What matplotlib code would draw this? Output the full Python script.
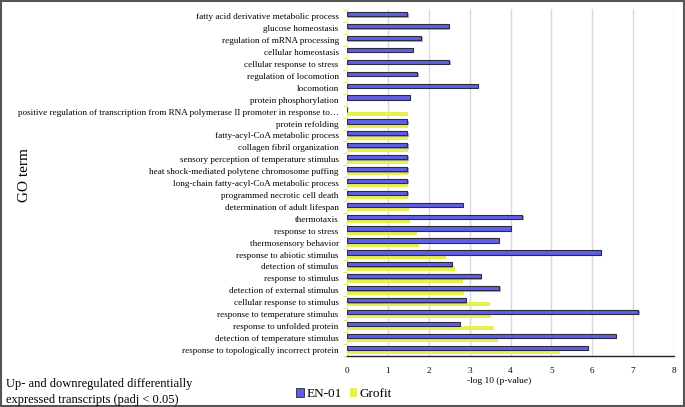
import matplotlib.pyplot as plt
import matplotlib.patheffects as pe
from matplotlib.patches import Rectangle
import numpy as np

plt.rcParams['font.family'] = ['Liberation Serif', 'DejaVu Serif']

# GO terms, top to bottom as shown
terms = [
    'fatty acid derivative metabolic process',
    'glucose homeostasis',
    'regulation of mRNA processing',
    'cellular homeostasis',
    'cellular response to stress',
    'regulation of locomotion',
    'locomotion',
    'protein phosphorylation',
    'positive regulation of transcription from RNA polymerase II promoter in response to\u2026',
    'protein refolding',
    'fatty-acyl-CoA metabolic process',
    'collagen fibril organization',
    'sensory perception of temperature stimulus',
    'heat shock-mediated polytene chromosome puffing',
    'long-chain fatty-acyl-CoA metabolic process',
    'programmed necrotic cell death',
    'determination of adult lifespan',
    'thermotaxis',
    'response to stress',
    'thermosensory behavior',
    'response to abiotic stimulus',
    'detection of stimulus',
    'response to stimulus',
    'detection of external stimulus',
    'cellular response to stimulus',
    'response to temperature stimulus',
    'response to unfolded protein',
    'detection of temperature stimulus',
    'response to topologically incorrect protein',
]

# -log10(p-value); 0 = not present
en01 = [1.48, 2.49, 1.82, 1.61, 2.50, 1.72, 3.20, 1.54, 0,
        1.48, 1.48, 1.48, 1.48, 1.48, 1.48, 1.48, 2.83, 4.29,
        4.00, 3.72, 6.21, 2.57, 3.27, 3.73, 2.90, 7.13, 2.76,
        6.57, 5.89]
grofit = [0, 0, 0, 0, 0, 0, 0, 0, 1.49,
          1.49, 1.49, 1.49, 1.49, 1.49, 1.49, 1.49, 1.51, 1.54,
          1.72, 1.77, 2.43, 2.64, 2.83, 2.87, 3.50, 3.52, 3.59,
          3.69, 5.20]

blue = '#5f5fe6'
yellow = '#e6f04e'

fig = plt.figure(figsize=(6.85, 4.07), dpi=100)
ax = fig.add_axes([347 / 685, 1 - 356 / 407, 327 / 685, 347 / 407])

y = np.arange(len(terms))
h = 0.36
ax.barh(y + h / 2, grofit, height=h, color=yellow, zorder=3)
en_bars = ax.barh(y - h / 2, en01, height=h, color=blue,
                  edgecolor='#2a2a40', linewidth=0.8, zorder=4)
for b in en_bars:
    b.set_path_effects([pe.SimplePatchShadow(offset=(1, -1), shadow_rgbFace='#888888', alpha=0.7),
                        pe.Normal()])

ax.set_xlim(0, 8)
ax.set_ylim(len(terms) - 0.48, -0.62)
ax.set_xticks(range(0, 9))
ax.tick_params(axis='x', length=0, labelsize=6.6, pad=8)
ax.set_yticks(y)
ax.set_yticklabels(terms, fontsize=6.6)
ax.tick_params(axis='y', which='major', length=0, pad=6)
ax.set_yticks(np.arange(len(terms) + 1) - 0.5, minor=True)
ax.tick_params(axis='y', which='minor', length=3, color='#e0e870', width=0.8)

ax.grid(axis='x', color='#d9d9d9', linewidth=1, zorder=0)
ax.set_axisbelow(True)
for s in ['top', 'right']:
    ax.spines[s].set_visible(False)
ax.spines['left'].set_color('#e8eea0')
ax.spines['bottom'].set_color('#222222')
ax.spines['bottom'].set_linewidth(1)

fig.text(499 / 685, 1 - 381 / 407, '-log 10 (p-value)', ha='center', va='center', fontsize=6.8)
fig.text(25 / 685, 1 - 175 / 407, 'GO term', rotation=90, ha='center', va='center', fontsize=11)
fig.text(6 / 685, 1 - 392 / 407,
         'Up- and downregulated differentially\nexpressed transcripts (padj < 0.05)',
         ha='left', va='center', fontsize=9, linespacing=1.5)

handles = [Rectangle((0, 0), 1, 1, facecolor=blue, edgecolor='#2a2a40', linewidth=0.6),
           Rectangle((0, 0), 1, 1, facecolor=yellow)]
fig.legend(handles, ['EN-01', 'Grofit'], loc='center', bbox_to_anchor=(344 / 685, 1 - 394 / 407),
           ncol=2, frameon=False, fontsize=9.5, handlelength=0.6, handleheight=0.6,
           handletextpad=0.15, columnspacing=0.6, borderpad=0)

fig.patches.append(Rectangle((0.002, 0.003), 0.996, 0.994, transform=fig.transFigure,
                             fill=False, edgecolor='#555555', linewidth=1.5))

fig.savefig('out.png', dpi=100)
